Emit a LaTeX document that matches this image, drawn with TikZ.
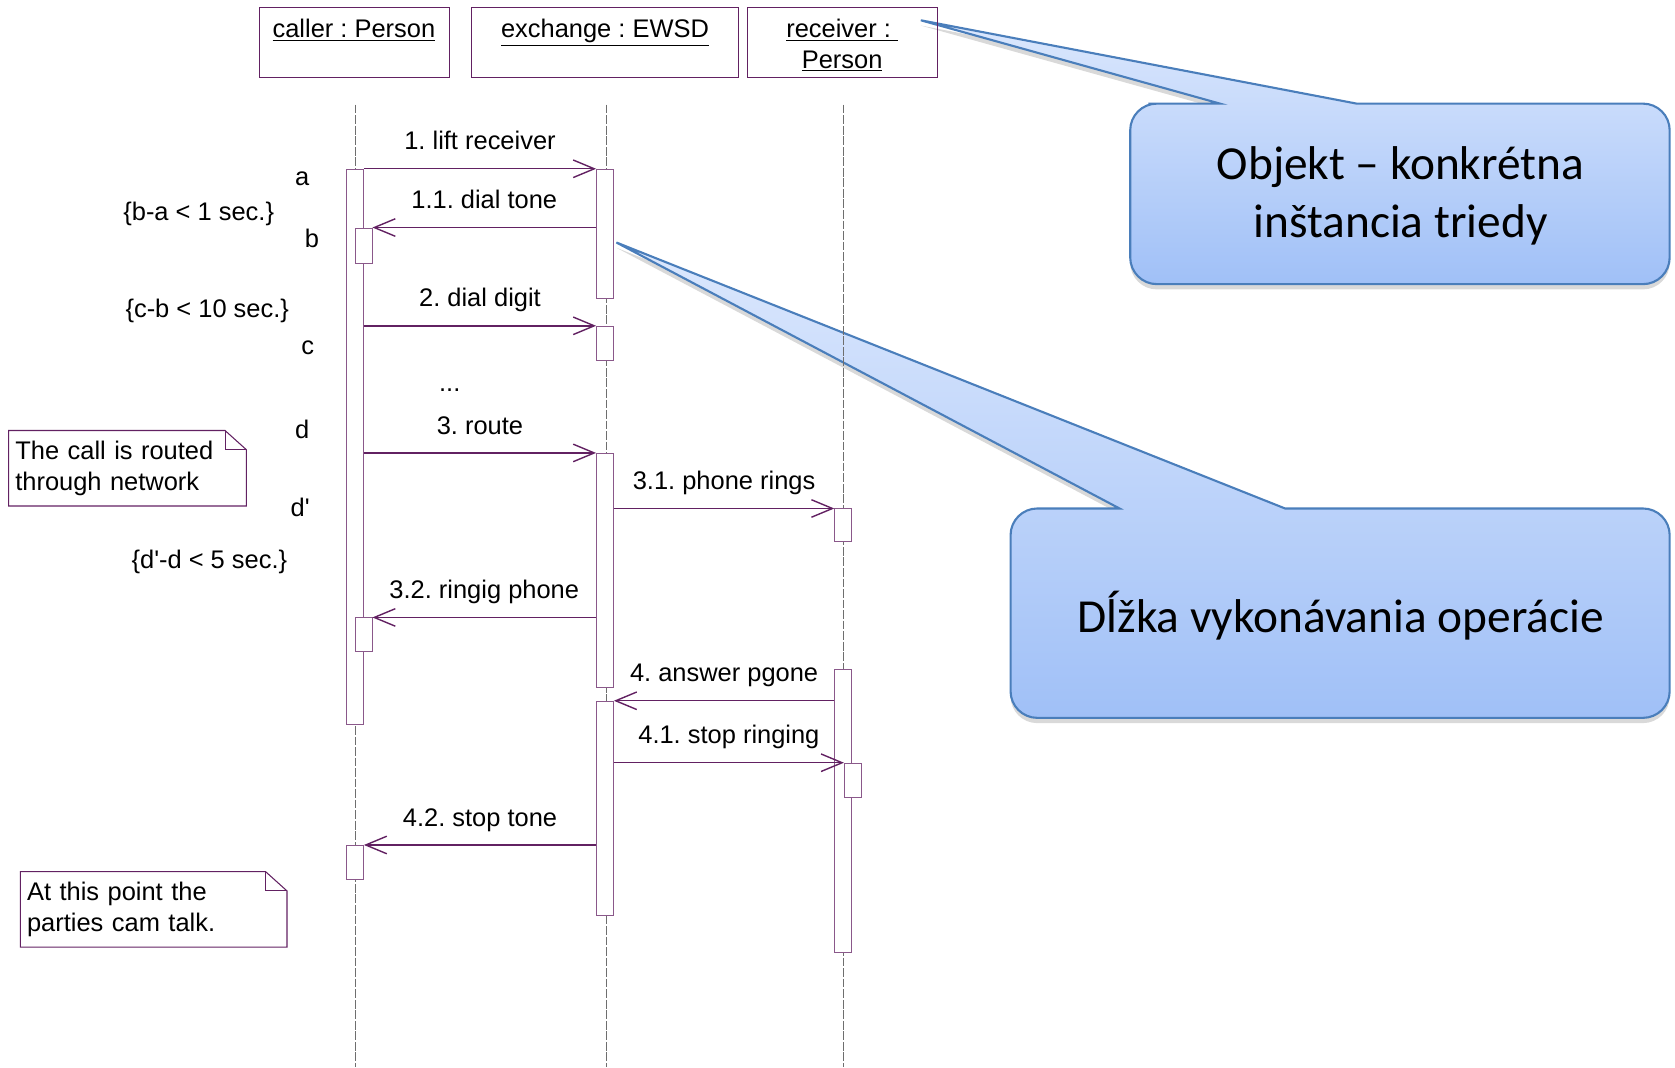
\documentclass[tikz,border=0pt]{standalone}
\usepackage{fontspec}
\setmainfont{Liberation Sans}
\newfontfamily\calloutfont{Carlito}
\usepackage{tikz}
\usetikzlibrary{arrows.meta}
\usetikzlibrary{shadows}
\frenchspacing
\newlength{\upx}
\setlength{\upx}{0.0214cm}
\definecolor{seqline}{RGB}{98,33,98}
\definecolor{seqbar}{RGB}{138,88,138}
\definecolor{lifegray}{RGB}{110,110,110}
\definecolor{calltop}{RGB}{220,232,253}
\definecolor{callbot}{RGB}{160,192,247}
\definecolor{callrim}{RGB}{74,126,187}
\tikzset{>={Straight Barb[length=12pt,width=10pt]}, font=\fontsize{14.5}{17.5}\selectfont}
\tikzstyle{objbox} = [draw=seqline, rectangle, minimum width=178\upx, minimum height=65\upx, anchor=north west, inner sep=0pt]
\tikzstyle{act} = [draw=seqbar, fill=white, rectangle, minimum width=16\upx, inner sep=0pt, anchor=north west]
\tikzstyle{msg} = [->, draw=seqline, line width=0.8pt]
\tikzstyle{msglbl} = [above=4pt, midway, text height=11pt, text depth=3pt]
\tikzstyle{lifeline} = [draw=lifegray, line width=0.5pt, dash pattern=on 5pt off 1pt]
\tikzstyle{lbl} = [inner sep=0pt]
\tikzstyle{notetext} = [anchor=north west, align=left, inner xsep=6\upx, minimum height=70\upx]
\tikzstyle{notebox} = [draw=seqline, line width=0.6pt]
\tikzstyle{bubble} = [draw=callrim, line width=1.2pt, top color=calltop, bottom color=callbot, drop shadow={shadow xshift=0pt, shadow yshift=-3pt, opacity=0.3}]
\tikzstyle{bubbletext} = [font=\calloutfont\fontsize{27}{33}\selectfont, align=center]

\begin{document}
\begin{tikzpicture}[x=0.0214cm, y=-0.0214cm]
	\useasboundingbox (0,0) rectangle (1568,999);

	% callouts
	\draw[bubble] (1100,97) [sharp corners] -- (1142,97) -- (862,19) -- (1270,97) -- (1300,97) [rounded corners=25\upx] -- (1563,97) -- (1563,266) -- (1058,266) -- (1058,97) -- cycle;
	\draw[bubble] (1000,476) [sharp corners] -- (1048,476) -- (577,227) -- (1203,476) -- (1240,476) [rounded corners=25\upx] -- (1563,476) -- (1563,672) -- (946,672) -- (946,476) -- cycle;
	\node[bubbletext] (objtxt) at (1311,183) {Objekt – konkrétna\\inštancia triedy};
	\node[bubbletext] (durtxt) at (1255,576) {Dĺžka vykonávania operácie};

	% objects
	\node[objbox] (caller) at (242,7) [label={[anchor=north, yshift=-3pt]north:{\underline{caller : Person}}}] {};
	\node[objbox, minimum width=250\upx] (exchange) at (441,7) [label={[anchor=north, yshift=-3pt]north:{\underline{exchange : EWSD}}}] {};
	\node[objbox] (receiver) at (699,7) [label={[anchor=north, yshift=-3pt, align=center]north:{\underline{receiver :\ }\\\underline{Person}}}] {};

	\foreach \x in {333,568,790}
		\draw[lifeline] (\x,98) -- (\x,999);

	% activations
	\node[act, minimum height=520\upx] (ca1) at (324,158) {};
	\node[act, minimum height=33\upx] (cb) at (332,213) {};
	\node[act, minimum height=31\upx] (cc) at (332,578) {};
	\node[act, minimum height=32\upx] (cd) at (324,791) {};
	\node[act, minimum height=121\upx] (ex1) at (558,158) {};
	\node[act, minimum height=32\upx] (ex2) at (558,305) {};
	\node[act, minimum height=219\upx] (ex3) at (558,424) {};
	\node[act, minimum height=201\upx] (ex4) at (558,656) {};
	\node[act, minimum height=30\upx] (re1) at (781,476) {};
	\node[act, minimum height=265\upx] (re2) at (781,626) {};
	\node[act, minimum height=32\upx] (re3) at (790,714) {};

	% messages
	\draw[msg] (ca1.east |- ex1.north) -- node[msglbl] {1. lift receiver} (ex1.north west);
	\draw[msg] (ex1.west |- cb.north) -- node[msglbl] {1.1. dial tone} (cb.north east);
	\draw[msg] (ca1.east |- ex2.north) -- node[msglbl] {2. dial digit} (ex2.north west);
	\draw[msg] (ca1.east |- ex3.north) -- node[msglbl] {3. route} (ex3.north west);
	\draw[msg] (ex3.east |- re1.north) -- node[msglbl] {3.1. phone rings} (re1.north west);
	\draw[msg] (ex3.west |- cc.north) -- node[msglbl] {3.2. ringig phone} (cc.north east);
	\draw[msg] (re2.west |- ex4.north) -- node[msglbl] {4. answer pgone} (ex4.north east);
	\draw[msg] (ex4.east |- re3.north) -- node[msglbl] {4.1. stop ringing} (re3.north west);
	\draw[msg] (ex4.west |- cd.north) -- node[msglbl] {4.2. stop tone} (cd.north east);
	\node[lbl] (dots) at (421,365) {...};

	% time marks and constraints
	\node[lbl] (ta) at (283,167) {a};
	\node[lbl] (tb) at (292,223) {b};
	\node[lbl] (tc) at (288,326) {c};
	\node[lbl] (td) at (283,402) {d};
	\node[lbl] (tdd) at (281,475) {d\textquotesingle};
	\node[lbl] (cba) at (186,200) {\{b-a < 1 sec.\}};
	\node[lbl] (ccb) at (194,291) {\{c-b < 10 sec.\}};
	\node[lbl] (cdd) at (196,526) {\{d\textquotesingle-d < 5 sec.\}};

	% notes
	\node[notetext, text width=210\upx] (route) at (8,403) {The call is routed\\through network};
	\draw[notebox] (route.north west) -- ([xshift=-20\upx]route.north east) -- ([yshift=-18\upx]route.north east) -- (route.south east) -- (route.south west) -- cycle;
	\draw[notebox] ([xshift=-20\upx]route.north east) |- ([yshift=-18\upx]route.north east);
	\node[notetext, text width=237\upx] (talk) at (19,816) {At this point the\\parties cam talk.};
	\draw[notebox] (talk.north west) -- ([xshift=-20\upx]talk.north east) -- ([yshift=-18\upx]talk.north east) -- (talk.south east) -- (talk.south west) -- cycle;
	\draw[notebox] ([xshift=-20\upx]talk.north east) |- ([yshift=-18\upx]talk.north east);
\end{tikzpicture}
\end{document}
